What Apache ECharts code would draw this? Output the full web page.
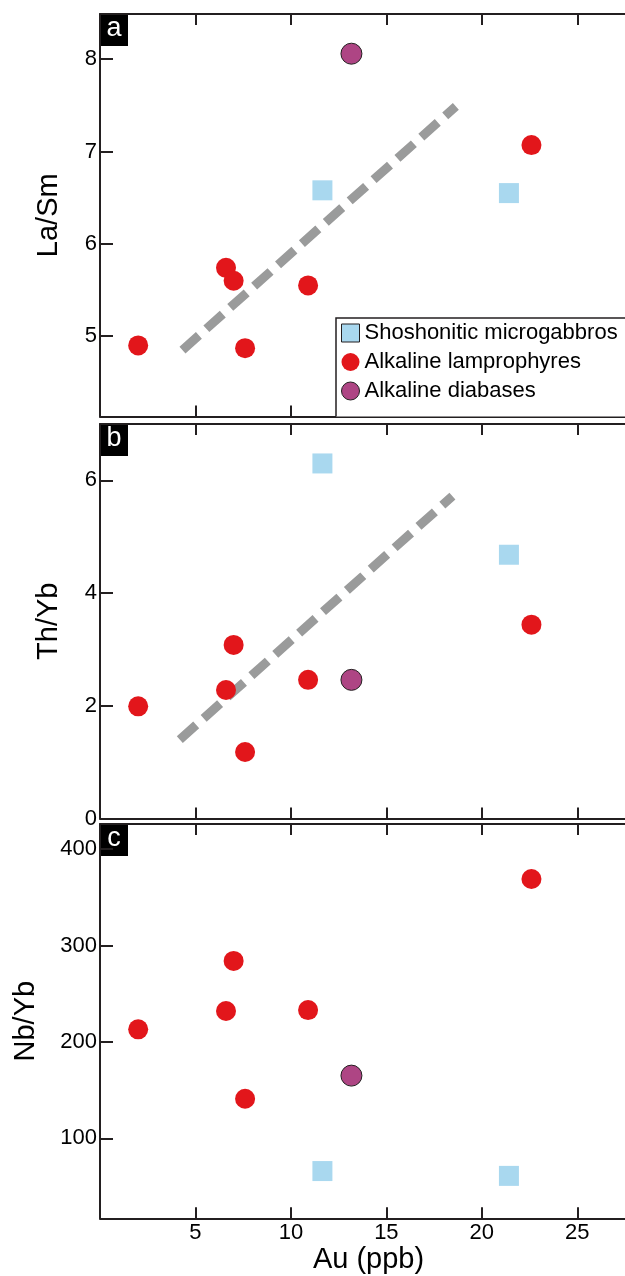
<!DOCTYPE html>
<html>
<head>
<meta charset="utf-8">
<script src="https://cdn.jsdelivr.net/npm/echarts@6/dist/echarts.min.js"></script>
<style>
html,body{margin:0;padding:0;background:#fff;overflow:hidden;}
#chart{width:625px;height:1276px;}
</style>
</head>
<body>
<div id="chart"></div>
<script>
// ---- data ----
const seriesNames = ['Shoshonitic microgabbros', 'Alkaline lamprophyres', 'Alkaline diabases'];
const panelLetters = ['a', 'b', 'c'];
const yTitles = ['La/Sm', 'Th/Yb', 'Nb/Yb'];
const xTitle = 'Au (ppb)';

// Au (ppb) per sample group
const auMicrogabbro = [11.65, 21.42];
const auLamprophyre = [2.0, 6.6, 7.0, 7.6, 10.9, 22.6];
const auDiabase = [13.17];

// La/Sm
const laSmMicrogabbro = [6.58, 6.55];
const laSmLamprophyre = [4.90, 5.74, 5.60, 4.87, 5.55, 7.07];
const laSmDiabase = [8.06];

// Th/Yb
const thYbMicrogabbro = [6.30, 4.68];
const thYbLamprophyre = [1.99, 2.28, 3.08, 1.18, 2.46, 3.44];
const thYbDiabase = [2.46];

// Nb/Yb
const nbYbMicrogabbro = [66, 61];
const nbYbLamprophyre = [213, 232, 284, 141, 233, 369];
const nbYbDiabase = [165];

// trend lines (end points)
const trendAu_a = [4.32, 18.64];
const trendLaSm = [4.85, 7.49];
const trendAu_b = [4.18, 18.46];
const trendThYb = [1.40, 5.72];

// tick labels
const xTicks = [5, 10, 15, 20, 25];
const yTicksA = [5, 6, 7, 8];
const yTicksB = [0, 2, 4, 6];
const yTicksC = [100, 200, 300, 400];

// ---- build ----
const FONT = '"Liberation Sans", Arial, Helvetica, sans-serif';
const AX = '#231f20';
const colors = { blue: '#a9d8ef', red: '#e2161b', purple: '#ae4584', gray: '#9a9b9b' };

const zip = (xs, ys) => xs.map((x, i) => [x, ys[i]]);

const grids = [
  { left: 100, top: 14, width: 527, height: 402.5 },
  { left: 100, top: 424, width: 527, height: 394.5 },
  { left: 100, top: 824, width: 527, height: 394.3 }
];
const yRanges = [[4.13, 8.49], [0, 7], [17, 426]];
const yTicks = [yTicksA, yTicksB, yTicksC];
const yNameGaps = [37, 37, 60];

const xAxes = [];
const yAxes = [];
grids.forEach((g, i) => {
  ['bottom', 'top'].forEach(pos => {
    const showLab = (i === 2 && pos === 'bottom');
    xAxes.push({
      type: 'value', gridIndex: i, position: pos, min: 0, max: 27.5,
      axisLine: { show: true, onZero: false, lineStyle: { color: AX, width: 2 } },
      axisTick: { show: true, inside: true, length: 11, customValues: xTicks, lineStyle: { color: AX, width: 2 } },
      axisLabel: { show: showLab, customValues: xTicks, color: '#000', fontFamily: FONT, fontSize: 22, margin: 4 },
      splitLine: { show: false },
      name: showLab ? xTitle : '', nameLocation: 'middle', nameGap: 25,
      nameTextStyle: { color: '#000', fontFamily: FONT, fontSize: 29, padding: [0, 0, 0, 12] }
    });
  });
  yAxes.push({
    type: 'value', gridIndex: i, position: 'left', min: yRanges[i][0], max: yRanges[i][1],
    axisLine: { show: true, onZero: false, lineStyle: { color: AX, width: 2 } },
    axisTick: { show: true, inside: true, length: 13, customValues: yTicks[i], lineStyle: { color: AX, width: 2 } },
    axisLabel: { show: true, customValues: yTicks[i], color: '#000', fontFamily: FONT, fontSize: 22, margin: 3 },
    splitLine: { show: false },
    name: yTitles[i], nameLocation: 'middle', nameGap: yNameGaps[i], nameRotate: 90,
    nameTextStyle: { color: '#000', fontFamily: FONT, fontSize: 29 }
  });
});

const panelData = [
  [laSmMicrogabbro, laSmLamprophyre, laSmDiabase],
  [thYbMicrogabbro, thYbLamprophyre, thYbDiabase],
  [nbYbMicrogabbro, nbYbLamprophyre, nbYbDiabase]
];
const trends = [[trendAu_a, trendLaSm], [trendAu_b, trendThYb], null];

const series = [];
panelData.forEach((d, i) => {
  if (trends[i]) {
    series.push({
      type: 'line', xAxisIndex: i * 2, yAxisIndex: i, data: zip(trends[i][0], trends[i][1]),
      symbol: 'none', silent: true, z: 1,
      lineStyle: { color: colors.gray, width: 9, type: [22, 10], cap: 'butt' }
    });
  }
  series.push({
    name: seriesNames[0], type: 'scatter', xAxisIndex: i * 2, yAxisIndex: i,
    data: zip(auMicrogabbro, d[0]), symbol: 'rect', symbolSize: 20, z: 3,
    itemStyle: { color: colors.blue, opacity: 1 }
  });
  series.push({
    name: seriesNames[1], type: 'scatter', xAxisIndex: i * 2, yAxisIndex: i,
    data: zip(auLamprophyre, d[1]), symbol: 'circle', symbolSize: 20, z: 3,
    itemStyle: { color: colors.red, opacity: 1 }
  });
  series.push({
    name: seriesNames[2], type: 'scatter', xAxisIndex: i * 2, yAxisIndex: i,
    data: zip(auDiabase, d[2]), symbol: 'circle', symbolSize: 21, z: 3,
    itemStyle: { color: colors.purple, borderColor: '#231f20', borderWidth: 1, opacity: 1 }
  });
});

const graphics = [];
grids.forEach((g, i) => {
  graphics.push({
    type: 'group', left: g.left, top: g.top, z: 100,
    children: [
      { type: 'rect', shape: { x: 0, y: 0, width: 28, height: 32 }, style: { fill: '#000' } },
      { type: 'text', x: 14, y: 15, style: { text: panelLetters[i], fill: '#fff', font: '27px ' + FONT, textAlign: 'center', textVerticalAlign: 'middle' } }
    ]
  });
});
// legend frame: left, top and bottom edges only (open on the right like the original)
graphics.push({
  type: 'rect', z: 4, silent: true,
  shape: { x: 336, y: 318, width: 300, height: 98.5 },
  style: { fill: '#fff', stroke: null }
});
graphics.push({
  type: 'polyline', z: 5, silent: true,
  shape: { points: [[700, 318], [336, 318], [336, 416.5]] },
  style: { fill: null, stroke: AX, lineWidth: 1.5 }
});

const chart = echarts.init(document.getElementById('chart'), null, { renderer: 'canvas' });
chart.setOption({
  animation: false,
  backgroundColor: '#fff',
  grid: grids,
  xAxis: xAxes,
  yAxis: yAxes,
  series: series,
  graphic: graphics,
  legend: {
    z: 10,
    orient: 'vertical', left: 336, top: 318,
    padding: [4, 5, 16, 5], itemGap: 7, itemWidth: 18, itemHeight: 18,
    textStyle: { color: '#000', fontFamily: FONT, fontSize: 22 },
    data: [
      { name: seriesNames[0], icon: 'rect', itemStyle: { color: colors.blue, borderColor: '#231f20', borderWidth: 1 } },
      { name: seriesNames[1], icon: 'circle', itemStyle: { color: colors.red } },
      { name: seriesNames[2], icon: 'circle', itemStyle: { color: colors.purple, borderColor: '#231f20', borderWidth: 1 } }
    ],
    selectedMode: false
  }
});
</script>
</body>
</html>
